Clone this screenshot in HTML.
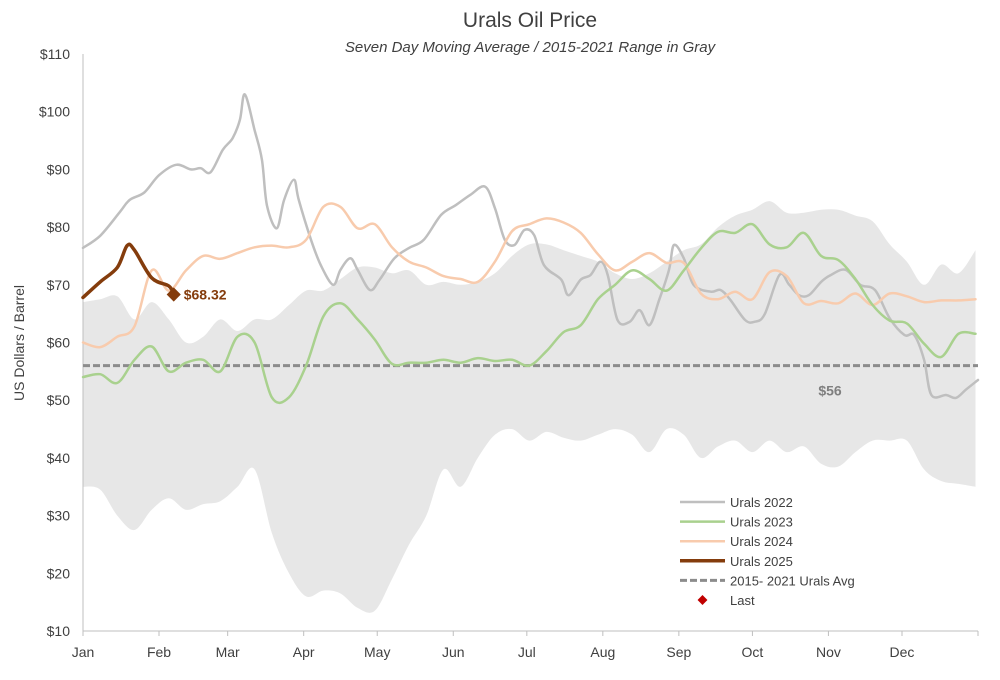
<!DOCTYPE html>
<html><head><meta charset="utf-8"><style>
body{margin:0;background:#fff;font-family:"Liberation Sans",sans-serif;}
svg text{font-family:"Liberation Sans",sans-serif;}
</style></head><body>
<svg id="chart" width="1000" height="675">
<text x="530" y="27" text-anchor="middle" font-size="21" fill="#404040">Urals Oil Price</text>
<text x="530" y="52" text-anchor="middle" font-size="15" font-style="italic" fill="#404040">Seven Day Moving Average / 2015-2021 Range in Gray</text>
<text transform="translate(24,343) rotate(-90)" text-anchor="middle" font-size="14" fill="#404040">US Dollars / Barrel</text>
<g id="band"></g>
<g id="axes"></g>
<g id="lines"></g>
<g id="legend"></g>
</svg>
<script>
const monthLabels=["Jan","Feb","Mar","Apr","May","Jun","Jul","Aug","Sep","Oct","Nov","Dec"];
const monthStartDays=[0,31,59,90,120,151,181,212,243,273,304,334];
const yTicks=[10,20,30,40,50,60,70,80,90,100,110];
const avgValue=56;
const bandUpper=[67,67.5,68,64,67,64,60,61,64,62,64,64,66.5,69,69,71,73,73,72,72.5,70,70.5,70,70.5,72,75,77,77,76,75,74,72,71,72,74,76,77,80,82,83,84.5,82.5,82.5,83,83,82,81,77,74,70,73.5,72,76];
const bandLower=[35,34.5,30,27.5,31,33,31,32,32.5,35,38,27,20,16,17,16.5,14,13.5,19,25,30,38,35,40,44,45,43,44.5,43.5,43,44,45,44,41,45,44,40,42,43,41,43,41,42,39,38.5,41,43,43,43,38,36,35.5,35];
const days2022=[0,7,15,19,25,31,38,44,48,52,57,61,64,66,70,73,75,79,82,86,88,93,97,102,105,109,112,117,121,127,133,139,146,152,158,164,168,172,176,180,184,188,195,198,203,207,211,214,218,223,227,231,235,239,241,245,249,256,260,264,270,274,278,284,288,292,296,301,305,311,317,323,329,335,339,343,346,352,356,360,365];
const urals2022=[76.4,78.5,82.6,84.7,86,89,90.8,90,90.2,89.5,93.4,95.4,98.6,103,96.8,91.6,83.8,79.8,84.7,88.2,84.7,77.8,73.4,70,72.6,74.6,72.6,69.1,70.9,74.6,76.4,77.8,82.1,83.8,85.6,87,83.3,77.8,76.9,79.5,78.6,73.4,70.9,68.2,70.9,71.7,74,71.7,63.9,63.6,65.6,63,67.4,72.6,76.9,74.6,70,68.8,69.1,67.4,63.9,63.6,64.9,71.7,70,68.2,68.2,70.5,71.7,72.6,70,69.1,64.2,61.3,61.3,57,50.9,50.9,50.4,51.8,53.5];
const urals2023=[54,54.5,53,57,59.3,55,56.5,57,55,61,60,50.5,50.5,56,64.5,66.8,64,60.5,56.3,56.5,56.5,57,56.5,57.3,56.8,57,56,58.5,61.8,63,67.5,70,72.5,71,69,72.5,76.3,79.2,79,80.5,77,76.5,79,75,74.3,71,66.5,63.8,63.3,59.8,57.5,61.5,61.5];
const urals2024=[60,59.2,61,62.8,72.5,69,72.5,75,74.5,75.5,76.5,76.8,76.5,77.8,83.5,83.5,79.8,80.5,76.5,74,73,71.5,71,70.5,74,79.3,80.5,81.5,80.8,79,75.3,72.5,74,75.5,73.8,73.8,68.5,67.5,68.8,67.5,72.2,71.5,66.8,67.2,66.8,68.5,66.5,68.5,68,67,67.3,67.3,67.5];
const days2025=[0,7,14,18,21,28,35,37];
const urals2025=[67.8,70.5,73,76.8,76,71.2,69.8,68.32];
const lastValue=68.32;

const NS="http://www.w3.org/2000/svg";
const X0=83,X1=978,Y0=631,Y1=54;
const xs=d=>X0+d*(X1-X0)/365;
const ys=v=>Y0-(v-10)*(Y0-Y1)/100;
const wk=i=>Math.min(i*7,365);
function mk(tag,attrs,parent){const e=document.createElementNS(NS,tag);for(const k in attrs)e.setAttribute(k,attrs[k]);parent.appendChild(e);return e;}
function smooth(P){
 let d='M'+P[0][0].toFixed(1)+','+P[0][1].toFixed(1);
 for(let i=0;i<P.length-1;i++){
  const p0=P[Math.max(i-1,0)],p1=P[i],p2=P[i+1],p3=P[Math.min(i+2,P.length-1)];
  const c1=[p1[0]+(p2[0]-p0[0])/6,p1[1]+(p2[1]-p0[1])/6],c2=[p2[0]-(p3[0]-p1[0])/6,p2[1]-(p3[1]-p1[1])/6];
  d+=' C'+c1[0].toFixed(1)+','+c1[1].toFixed(1)+' '+c2[0].toFixed(1)+','+c2[1].toFixed(1)+' '+p2[0].toFixed(1)+','+p2[1].toFixed(1);
 }
 return d;
}
const band=document.getElementById('band'),axes=document.getElementById('axes'),lines=document.getElementById('lines'),legend=document.getElementById('legend');

const up=bandUpper.map((v,i)=>[xs(wk(i)),ys(v)]);
const lo=bandLower.map((v,i)=>[xs(wk(i)),ys(v)]).reverse();
const bd=smooth(up)+' L'+smooth(lo).slice(1)+' Z';
const poly=mk('path',{d:bd,fill:'#e7e7e7'},band);



yTicks.forEach(t=>{
 const tx=mk('text',{x:70,y:ys(t)+5,'text-anchor':'end','font-size':14,fill:'#404040'},axes);
 tx.textContent='$'+t;
 
 
});
monthLabels.forEach((m,i)=>{
 const tx=mk('text',{x:xs(monthStartDays[i]),y:657,'text-anchor':'middle','font-size':14,fill:'#404040'},axes);
 tx.textContent=m;
 
 
});
const yax=mk('line',{x1:X0,y1:Y1,x2:X0,y2:Y0,stroke:'#bfbfbf','stroke-width':1},axes);


const xax=mk('line',{x1:X0,y1:Y0,x2:X1,y2:Y0,stroke:'#bfbfbf','stroke-width':1},axes);


monthStartDays.concat([365]).forEach(d=>{
 const tk=mk('line',{x1:xs(d),y1:Y0,x2:xs(d),y2:Y0+5,stroke:'#bfbfbf'},axes);
 
 
});

const avg=mk('line',{x1:X0,y1:ys(avgValue),x2:X1,y2:ys(avgValue),stroke:'#8c8c8c','stroke-width':3,'stroke-dasharray':'7,3'},lines);


const avgL=mk('text',{x:830,y:ys(avgValue)+30,'text-anchor':'middle','font-size':14,'font-weight':'bold',fill:'#7f7f7f'},lines);
avgL.textContent='$'+avgValue;



function series(vals,days,color,w,name){
 const P=vals.map((v,i)=>[xs(days?days[i]:wk(i)),ys(v)]);
 const e=mk('path',{d:smooth(P),fill:'none',stroke:color,'stroke-width':w,'stroke-linejoin':'round','stroke-linecap':'round'},lines);
 
 
}
series(urals2022,days2022,'#bfbfbf',2.5,'line-urals-2022');
series(urals2024,null,'#f8cbad',2.5,'line-urals-2024');
series(urals2023,null,'#a9d18e',2.5,'line-urals-2023');
series(urals2025,days2025,'#843c0c',3.5,'line-urals-2025');
const lx=xs(days2025[days2025.length-1]),ly=ys(lastValue);
const mark=mk('rect',{x:lx-5,y:ly-5,width:10,height:10,fill:'#843c0c',transform:`rotate(45 ${lx} ${ly})`},lines);


const lastL=mk('text',{x:lx+10,y:ly+5,'font-size':14,'font-weight':'bold',fill:'#843c0c'},lines);
lastL.textContent='$'+lastValue.toFixed(2);



const leg=[["Urals 2022",'#bfbfbf',2.5],["Urals 2023",'#a9d18e',2.5],["Urals 2024",'#f8cbad',2.5],["Urals 2025",'#843c0c',3.5],["2015- 2021 Urals Avg",'#8c8c8c',3],["Last",null,0]];
leg.forEach((l,i)=>{
 const y=502+i*19.6;
 if(l[1]){
  const ln=mk('line',{x1:680,y1:y,x2:725,y2:y,stroke:l[1],'stroke-width':l[2]},legend);
  if(i==4)ln.setAttribute('stroke-dasharray','7,3');
  
  
 } else {
  const d=mk('rect',{x:699,y:y-3.5,width:7,height:7,fill:'#c00000',transform:`rotate(45 702.5 ${y})`},legend);
  
  
 }
 const t=mk('text',{x:730,y:y+5,'font-size':13,fill:'#404040'},legend);
 t.textContent=l[0];
 
 
});
</script>
</body></html>
